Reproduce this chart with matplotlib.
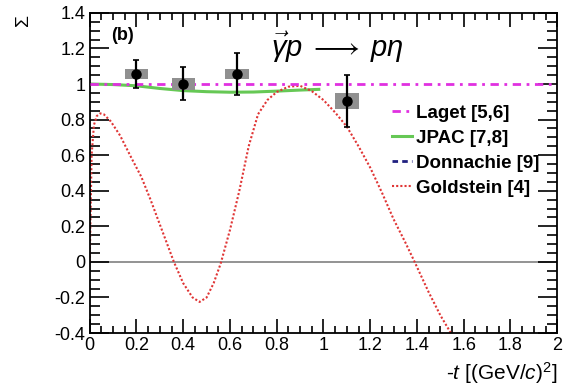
import numpy as np
import matplotlib.pyplot as plt
from matplotlib.ticker import MultipleLocator, FormatStrFormatter

plt.rcParams['font.family'] = ['Liberation Sans', 'DejaVu Sans']
plt.rcParams['mathtext.fontset'] = 'custom'
plt.rcParams['mathtext.it'] = 'Liberation Sans:italic'
plt.rcParams['mathtext.rm'] = 'Liberation Sans'

# measured beam asymmetry
t_data = [0.2, 0.4, 0.63, 1.1]
sigma_data = [1.055, 1.0, 1.055, 0.905]
err_lo = [0.08, 0.09, 0.115, 0.145]
err_hi = [0.08, 0.095, 0.12, 0.145]
sys_err = [0.028, 0.034, 0.028, 0.044]
t_binhalf = [0.05, 0.05, 0.05, 0.05]

# Laget
laget_t = [0.0, 2.0]
laget_s = [1.0, 1.0]

# JPAC
jpac_t = [0.0, 0.1, 0.2, 0.3, 0.4, 0.5, 0.6, 0.7, 0.8, 0.9, 0.98]
jpac_s = [1.0, 0.997, 0.99, 0.975, 0.963, 0.957, 0.954, 0.955, 0.96, 0.966, 0.97]

# Goldstein
gold_t = [0.0, 0.008, 0.018, 0.03, 0.045, 0.06, 0.09, 0.13, 0.18, 0.22, 0.26,
          0.30, 0.34, 0.36, 0.40, 0.44, 0.47, 0.50, 0.53, 0.56, 0.60, 0.64,
          0.68, 0.72, 0.76, 0.80, 0.85, 0.90, 0.95, 1.0, 1.05, 1.10, 1.15,
          1.20, 1.25, 1.30, 1.35, 1.39, 1.45, 1.50, 1.545]
gold_s = [0.0, 0.6, 0.77, 0.82, 0.835, 0.83, 0.79, 0.71, 0.58, 0.48, 0.35,
          0.21, 0.07, 0.0, -0.12, -0.2, -0.225, -0.2, -0.12, -0.01, 0.18, 0.40,
          0.65, 0.83, 0.91, 0.955, 0.985, 0.99, 0.96, 0.91, 0.84, 0.76, 0.65,
          0.53, 0.39, 0.24, 0.11, 0.0, -0.17, -0.30, -0.40]

fig = plt.figure(figsize=(5.68, 3.90), dpi=100)
ax = fig.add_axes([0.158, 0.146, 0.823, 0.821])

ax.axhline(0, color='#808080', lw=1.2, zorder=1)

ax.plot(laget_t, laget_s, color='#e030e0', lw=2, ls=(0, (3, 2, 1, 2)), label='Laget [5,6]', zorder=3)
ax.plot(jpac_t, jpac_s, color='#66c855', lw=2.2, label='JPAC [7,8]', zorder=2)
ax.plot([], [], color='#202080', lw=2, ls=(0, (2, 1.5)), label='Donnachie [9]')
ax.plot(gold_t, gold_s, color='#e03535', lw=1.5, ls=(0, (1, 1)), label='Goldstein [4]', zorder=2)

# systematic boxes
for t, s, e, w in zip(t_data, sigma_data, sys_err, t_binhalf):
    ax.add_patch(plt.Rectangle((t - w, s - e), 2 * w, 2 * e, color='#909090', zorder=4, lw=0))

ax.errorbar(t_data, sigma_data, yerr=[err_lo, err_hi], fmt='o', color='black',
            ms=6.5, elinewidth=1.6, capsize=2, capthick=1.2, zorder=5)

ax.set_xlim(0, 2)
ax.set_ylim(-0.4, 1.4)
ax.xaxis.set_major_locator(MultipleLocator(0.2))
ax.xaxis.set_minor_locator(MultipleLocator(0.05))
ax.yaxis.set_major_locator(MultipleLocator(0.2))
ax.yaxis.set_minor_locator(MultipleLocator(0.05))
ax.xaxis.set_major_formatter(FormatStrFormatter('%g'))
ax.yaxis.set_major_formatter(FormatStrFormatter('%g'))
ax.tick_params(which='both', direction='in', top=True, right=True, labelsize=13, width=1.2)
ax.tick_params(axis='y', which='major', length=14, pad=3)
ax.tick_params(axis='y', which='minor', length=7)
ax.tick_params(axis='x', which='major', length=10, pad=3)
ax.tick_params(axis='x', which='minor', length=5)
for sp in ax.spines.values():
    sp.set_linewidth(1.3)

ax.text(0.045, 0.93, '(b)', transform=ax.transAxes, fontsize=13, fontweight='bold', va='center')
ax.text(0.387, 0.893, r'$\vec{\gamma}p\;\longrightarrow\;p\eta$', transform=ax.transAxes,
        fontsize=21, va='center')

ax.set_xlabel(r'-$t$ [(GeV/$c$)$^2$]', fontsize=15, loc='right')
ax.set_ylabel(r'$\Sigma$', fontsize=14, loc='top')
ax.yaxis.set_label_coords(-0.122, 0.995)

leg = ax.legend(loc='upper right', bbox_to_anchor=(0.99, 0.755), frameon=False,
                handlelength=1.1, handletextpad=0.2, labelspacing=0.42, borderaxespad=0.3,
                prop={'weight': 'bold', 'size': 13.5})

fig.savefig('out.png', dpi=100)
